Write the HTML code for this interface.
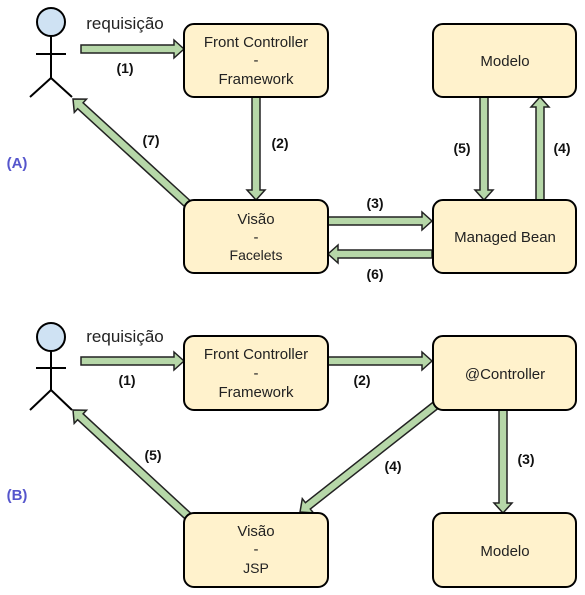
<!DOCTYPE html>
<html><head><meta charset="utf-8"><style>
html,body{margin:0;padding:0;background:#fff;}
svg{display:block;font-family:"Liberation Sans",sans-serif;}
.b{fill:#fff2cc;stroke:#000;stroke-width:2;}
.t{font-size:15px;fill:#222;text-anchor:middle;}
.l{font-size:14px;font-weight:bold;fill:#111;text-anchor:middle;}
.g{font-size:15px;font-weight:bold;fill:#5555cc;text-anchor:middle;}
.ar{fill:#b6d7a8;stroke:#222;stroke-width:1.5;}
.a{stroke:#000;stroke-width:2;fill:none;}
</style></head><body>
<svg id="s" width="585" height="595" viewBox="0 0 585 595">
<g id="arrows"></g>
<circle cx="51" cy="22" r="14" fill="#cfe2f3" stroke="#000" stroke-width="2"/>
<path class="a" d="M51 36V78M36 54H66M30 97L51 78L72 97"/>
<circle cx="51" cy="337" r="14" fill="#cfe2f3" stroke="#000" stroke-width="2"/>
<path class="a" d="M51 351V390M36 368H66M30 410L51 390L72 410"/>
<text x="125" y="29" class="t" style="font-size:17px">requisição</text>
<text x="125" y="342" class="t" style="font-size:17px">requisição</text>
<rect class="b" x="184" y="24" width="144" height="73" rx="10"/>
<text class="t" x="256" y="47">Front Controller</text><text class="t" x="256" y="65">-</text><text class="t" x="256" y="84">Framework</text>
<rect class="b" x="184" y="200" width="144" height="73" rx="10"/>
<text class="t" x="256" y="224">Visão</text><text class="t" x="256" y="242">-</text><text class="t" x="256" y="260" style="font-size:14px">Facelets</text>
<rect class="b" x="433" y="24" width="143" height="73" rx="10"/>
<text class="t" x="505" y="66">Modelo</text>
<rect class="b" x="433" y="200" width="143" height="73" rx="10"/>
<text class="t" x="505" y="242">Managed Bean</text>
<rect class="b" x="184" y="336" width="144" height="74" rx="10"/>
<text class="t" x="256" y="359">Front Controller</text><text class="t" x="256" y="378">-</text><text class="t" x="256" y="397">Framework</text>
<rect class="b" x="433" y="336" width="143" height="74" rx="10"/>
<text class="t" x="505" y="379">@Controller</text>
<rect class="b" x="184" y="513" width="144" height="74" rx="10"/>
<text class="t" x="256" y="536">Visão</text><text class="t" x="256" y="554">-</text><text class="t" x="256" y="573" style="font-size:14px">JSP</text>
<rect class="b" x="433" y="513" width="143" height="74" rx="10"/>
<text class="t" x="505" y="556">Modelo</text>
<text class="l" x="125" y="73">(1)</text>
<text class="l" x="280" y="148">(2)</text>
<text class="l" x="151" y="145">(7)</text>
<text class="l" x="375" y="208">(3)</text>
<text class="l" x="375" y="279">(6)</text>
<text class="l" x="462" y="153">(5)</text>
<text class="l" x="562" y="153">(4)</text>
<text class="l" x="127" y="385">(1)</text>
<text class="l" x="362" y="385">(2)</text>
<text class="l" x="526" y="464">(3)</text>
<text class="l" x="393" y="471">(4)</text>
<text class="l" x="153" y="460">(5)</text>
<text class="g" x="17" y="168">(A)</text>
<text class="g" x="17" y="500">(B)</text>
</svg>
<script>
function arr(x1,y1,x2,y2){
 var dx=x2-x1,dy=y2-y1,L=Math.sqrt(dx*dx+dy*dy),ux=dx/L,uy=dy/L,px=-uy,py=ux;
 var w=4,hw=9,hl=10;
 var bx=x2-ux*hl,by=y2-uy*hl;
 var pts=[[x1+px*w,y1+py*w],[bx+px*w,by+py*w],[bx+px*hw,by+py*hw],[x2,y2],[bx-px*hw,by-py*hw],[bx-px*w,by-py*w],[x1-px*w,y1-py*w]];
 var p=document.createElementNS("http://www.w3.org/2000/svg","polygon");
 p.setAttribute("points",pts.map(function(q){return q[0].toFixed(1)+","+q[1].toFixed(1)}).join(" "));
 p.setAttribute("class","ar");
 document.getElementById("arrows").appendChild(p);
}
arr(81,49,184,49);
arr(256,97,256,200);
arr(190,206,73,99);
arr(328,221,432,221);
arr(432,254,328,254);
arr(484,97,484,200);
arr(540,200,540,97);
arr(81,361,184,361);
arr(328,361,432,361);
arr(503,410,503,513);
arr(436,405,300,512);
arr(190,518,73,410);
</script>
</body></html>
